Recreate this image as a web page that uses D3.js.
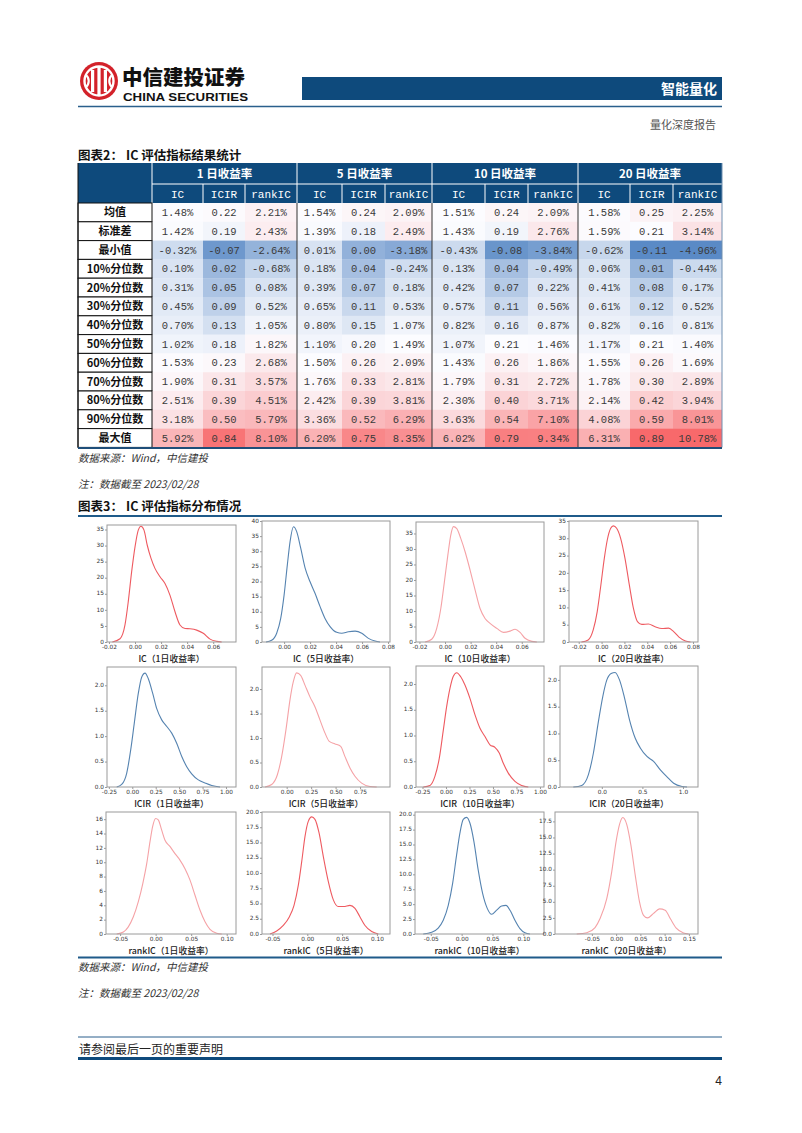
<!DOCTYPE html>
<html><head><meta charset="utf-8">
<script src="https://cdn.jsdelivr.net/npm/d3@7"></script>
<style>
body{margin:0;background:#fff;}
svg{display:block;}
</style></head><body>
<svg id="page" width="802" height="1133"></svg>
<script>
// ---------------- table data ----------------
const rowLabels = ["均值","标准差","最小值","10%分位数","20%分位数","30%分位数","40%分位数","50%分位数","60%分位数","70%分位数","80%分位数","90%分位数","最大值"];
const horizons = ["1 日收益率","5 日收益率","10 日收益率","20 日收益率"];
const metrics = ["IC","ICIR","rankIC"];
const ic1   = [1.48,1.42,-0.32,0.10,0.31,0.45,0.70,1.02,1.53,1.90,2.51,3.18,5.92];
const icir1 = [0.22,0.19,-0.07,0.02,0.05,0.09,0.13,0.18,0.23,0.31,0.39,0.50,0.84];
const rank1 = [2.21,2.43,-2.64,-0.68,0.08,0.52,1.05,1.82,2.68,3.57,4.51,5.79,8.10];
const ic5   = [1.54,1.39,0.01,0.18,0.39,0.65,0.80,1.10,1.50,1.76,2.42,3.36,6.20];
const icir5 = [0.24,0.18,0.00,0.04,0.07,0.11,0.15,0.20,0.26,0.33,0.39,0.52,0.75];
const rank5 = [2.09,2.49,-3.18,-0.24,0.18,0.53,1.07,1.49,2.09,2.81,3.81,6.29,8.35];
const ic10   = [1.51,1.43,-0.43,0.13,0.42,0.57,0.82,1.07,1.43,1.79,2.30,3.63,6.02];
const icir10 = [0.24,0.19,-0.08,0.04,0.07,0.11,0.16,0.21,0.26,0.31,0.40,0.54,0.79];
const rank10 = [2.09,2.76,-3.84,-0.49,0.22,0.56,0.87,1.46,1.86,2.72,3.71,7.10,9.34];
const ic20   = [1.58,1.59,-0.62,0.06,0.41,0.61,0.82,1.17,1.55,1.78,2.14,4.08,6.31];
const icir20 = [0.25,0.21,-0.11,0.01,0.08,0.12,0.16,0.21,0.26,0.30,0.42,0.59,0.89];
const rank20 = [2.25,3.14,-4.96,-0.44,0.17,0.52,0.81,1.40,1.69,2.89,3.94,8.01,10.78];

// ---------------- KDE curves: [x, density] ----------------
const kdeIC1 = [[-0.0174,0],[-0.0115,1.0],[-0.0077,5.3],[-0.0052,12.5],[-0.0026,21.8],[0.0,29.6],[0.0025,34.8],[0.0046,36.0],[0.0069,34.8],[0.0094,30.1],[0.0123,26.0],[0.0153,22.9],[0.0192,20.3],[0.023,18.2],[0.0268,14.6],[0.0307,9.4],[0.0345,5.3],[0.0384,4.2],[0.0422,4.1],[0.0473,3.7],[0.0524,2.7],[0.0576,0.9],[0.0627,0.2],[0.0665,0]];
const kdeIC5 = [[-0.0139,0],[-0.0096,0.55],[-0.0057,2.9],[-0.0026,7.8],[0.0,15.5],[0.0025,25.5],[0.0046,33.2],[0.0072,38.1],[0.0097,36.5],[0.0128,31.0],[0.0162,24.4],[0.02,19.9],[0.0238,16.1],[0.0277,11.7],[0.0315,7.8],[0.0354,5.1],[0.0405,3.2],[0.0444,2.9],[0.0495,3.4],[0.0546,3.6],[0.0598,2.9],[0.0649,1.2],[0.07,0.3],[0.0738,0]];
const kdeIC10 = [[-0.0156,0],[-0.0104,0.9],[-0.0065,4.4],[-0.0033,10.8],[-0.0005,19.4],[0.0022,28.0],[0.0045,34.5],[0.0066,37.2],[0.0092,36.6],[0.0123,33.4],[0.0157,29.1],[0.0196,23.2],[0.0235,16.8],[0.0274,10.8],[0.0313,7.6],[0.0352,6.0],[0.0405,4.4],[0.0457,3.1],[0.0509,3.5],[0.0548,4.1],[0.0587,3.1],[0.0626,1.2],[0.0679,0.2],[0.0718,0]];
const kdeIC20 = [[-0.0176,0],[-0.0117,0.6],[-0.0073,3.5],[-0.0038,8.8],[-0.0006,16.5],[0.0024,24.2],[0.005,29.5],[0.008,32.9],[0.0103,33.6],[0.0132,32.9],[0.0167,30.0],[0.0205,24.2],[0.0243,16.5],[0.0279,9.7],[0.0314,5.9],[0.0352,5.1],[0.041,5.2],[0.0469,4.4],[0.0528,3.9],[0.0587,4.0],[0.0631,3.0],[0.0675,1.5],[0.0734,0.3],[0.0778,0]];
const kdeICIR1 = [[-0.166,0],[-0.113,0.05],[-0.06,0.27],[-0.017,0.73],[0.021,1.25],[0.064,1.84],[0.1,2.16],[0.136,2.24],[0.171,2.13],[0.218,1.84],[0.261,1.54],[0.314,1.32],[0.368,1.19],[0.421,1.06],[0.474,0.86],[0.528,0.6],[0.581,0.4],[0.634,0.26],[0.705,0.14],[0.777,0.08],[0.848,0.03],[0.937,0]];
const kdeICIR5 = [[-0.221,0],[-0.153,0.05],[-0.095,0.25],[-0.051,0.62],[-0.007,1.17],[0.034,1.78],[0.068,2.15],[0.102,2.33],[0.143,2.28],[0.187,2.08],[0.238,1.84],[0.289,1.64],[0.34,1.37],[0.392,1.1],[0.436,0.93],[0.494,0.88],[0.552,0.83],[0.596,0.62],[0.647,0.39],[0.698,0.22],[0.766,0.08],[0.852,0.01],[0.92,0]];
const kdeICIR10 = [[-0.241,0],[-0.17,0.03],[-0.117,0.21],[-0.071,0.56],[-0.028,1.11],[0.007,1.56],[0.043,1.92],[0.078,2.15],[0.114,2.22],[0.157,2.14],[0.202,1.98],[0.255,1.72],[0.309,1.4],[0.362,1.14],[0.415,0.98],[0.468,0.82],[0.521,0.77],[0.567,0.66],[0.61,0.46],[0.663,0.27],[0.734,0.11],[0.805,0.03],[0.876,0]];
const kdeICIR20 = [[-0.351,0],[-0.247,0.03],[-0.165,0.23],[-0.104,0.63],[-0.042,1.22],[0.012,1.69],[0.062,2.0],[0.115,2.12],[0.164,2.14],[0.218,2.0],[0.276,1.69],[0.342,1.25],[0.412,0.91],[0.474,0.73],[0.556,0.57],[0.638,0.48],[0.721,0.32],[0.803,0.19],[0.885,0.07],[0.988,0.01],[1.05,0]];
const kdeRank1 = [[-0.0548,0],[-0.0454,0.28],[-0.0385,1.0],[-0.0314,2.4],[-0.0244,4.5],[-0.0182,7.0],[-0.0126,9.8],[-0.0079,12.9],[-0.0042,15.0],[0.0,16.1],[0.0037,15.9],[0.0084,14.5],[0.013,13.1],[0.0201,12.2],[0.0272,11.2],[0.0342,10.3],[0.0413,9.1],[0.0484,7.5],[0.0554,5.4],[0.0625,3.3],[0.0695,1.7],[0.0765,0.65],[0.086,0.1],[0.093,0]];
const kdeRank5 = [[-0.0536,0],[-0.044,0.5],[-0.0345,1.4],[-0.0259,2.8],[-0.0191,4.7],[-0.0129,8.0],[-0.008,11.9],[-0.0033,16.0],[0.0015,18.5],[0.0063,19.2],[0.011,18.8],[0.0168,16.6],[0.023,12.7],[0.0302,8.6],[0.0374,5.6],[0.0445,4.5],[0.0522,4.5],[0.0613,4.7],[0.0685,4.2],[0.0757,2.8],[0.0829,1.4],[0.0925,0.4],[0.102,0]];
const kdeRank10 = [[-0.0622,0],[-0.0486,0.3],[-0.038,1.0],[-0.0298,2.3],[-0.0217,4.8],[-0.0146,8.5],[-0.0081,13.3],[-0.0028,16.9],[0.0026,19.2],[0.0081,19.55],[0.0134,18.6],[0.0199,15.5],[0.0269,10.7],[0.034,6.8],[0.0415,4.3],[0.0486,3.3],[0.0567,4.0],[0.0648,4.7],[0.0718,4.8],[0.0794,3.8],[0.0864,2.3],[0.0945,0.9],[0.1026,0.2],[0.1107,0]];
const kdeRank20 = [[-0.0812,0],[-0.0606,0.2],[-0.0434,1.0],[-0.0331,2.4],[-0.0193,5.5],[-0.009,9.7],[0.0,14.4],[0.0069,17.0],[0.0138,18.1],[0.022,17.0],[0.0303,13.9],[0.0393,9.2],[0.0482,5.0],[0.0565,2.9],[0.0647,2.5],[0.0771,3.2],[0.0895,3.9],[0.1012,3.7],[0.1116,2.4],[0.124,0.9],[0.139,0.15],[0.1494,0]];

const panelLabels = ["IC（1日收益率）","IC（5日收益率）","IC（10日收益率）","IC（20日收益率）",
  "ICIR（1日收益率）","ICIR（5日收益率）","ICIR（10日收益率）","ICIR（20日收益率）",
  "rankIC（1日收益率）","rankIC（5日收益率）","rankIC（10日收益率）","rankIC（20日收益率）"];

// ---------------- setup ----------------
const svg = d3.select("#page");
const CJK = "'Noto Sans CJK SC','Noto Sans',sans-serif";
const MONO = "'Liberation Mono','DejaVu Sans Mono',monospace";
const SANS = "'DejaVu Sans','Liberation Sans',sans-serif";
const NAVY = "#0e4a7c";
const loc = d3.formatLocale({decimal:".",thousands:",",grouping:[3],currency:["",""],minus:"-"});

svg.append("rect").attr("width",802).attr("height",1133).attr("fill","#fff");

// ---------------- page header ----------------
const logo = svg.append("g");
logo.append("circle").attr("cx",99).attr("cy",81).attr("r",19).attr("fill","#d3222a");
logo.append("circle").attr("cx",99).attr("cy",81).attr("r",14.5).attr("fill","none").attr("stroke","#fff").attr("stroke-width",2.4);
[[91,70,3.2,22],[97.4,66,3.2,30],[103.8,70,3.2,22]].forEach(r=>{
  logo.append("rect").attr("x",r[0]).attr("y",r[1]).attr("width",r[2]).attr("height",r[3]).attr("fill","#fff");
});
logo.append("path").attr("d","M86 75 A8 8 0 0 1 86 87").attr("fill","none").attr("stroke","#fff").attr("stroke-width",2.2);
logo.append("path").attr("d","M112 75 A8 8 0 0 0 112 87").attr("fill","none").attr("stroke","#fff").attr("stroke-width",2.2);
svg.append("text").attr("x",122).attr("y",84.5).text("中信建投证券")
  .attr("font-family",CJK).attr("font-weight",900).attr("font-size",20.5).attr("fill","#111");
svg.append("text").attr("x",123).attr("y",101).text("CHINA SECURITIES")
  .attr("font-family","'Liberation Sans',Arial,sans-serif").attr("font-weight",700).attr("font-size",11.5)
  .attr("textLength",125).attr("lengthAdjust","spacingAndGlyphs").attr("fill","#111");
svg.append("rect").attr("x",302).attr("y",77).attr("width",420).attr("height",23).attr("fill",NAVY);
svg.append("text").attr("x",717).attr("y",94).attr("text-anchor","end").text("智能量化")
  .attr("font-family",CJK).attr("font-weight",700).attr("font-size",14).attr("fill","#fff");
svg.append("line").attr("x1",78).attr("x2",722).attr("y1",106.5).attr("y2",106.5).attr("stroke","#2a5f8c").attr("stroke-width",1.5);
svg.append("text").attr("x",716).attr("y",129).attr("text-anchor","end").text("量化深度报告")
  .attr("font-family",CJK).attr("font-size",11).attr("fill","#555");

function caption(y, num, title){
  svg.append("text").attr("x",78).attr("y",y).text(num)
    .attr("font-family",CJK).attr("font-weight",700).attr("font-size",12.5).attr("fill","#111");
  svg.append("text").attr("x",126).attr("y",y).text(title)
    .attr("font-family",CJK).attr("font-weight",700).attr("font-size",12.5).attr("fill","#111");
}
caption(160,"图表2：","IC 评估指标结果统计");

// ---------------- table ----------------
const colEdges = [78,152,203,245,297,342,385,432,485,528,578,630,673,722];
const headTop = 163, headMid = 184, bodyTop = 203, rowH = 18.8;
const bodyBottom = bodyTop + rowH*rowLabels.length;
const tableCols = [ic1,icir1,rank1, ic5,icir5,rank5, ic10,icir10,rank10, ic20,icir20,rank20];
const pctAll = [...ic1,...rank1,...ic5,...rank5,...ic10,...rank10,...ic20,...rank20];
const icirAll = [...icir1,...icir5,...icir10,...icir20];
const cs = arr => d3.scaleLinear()
  .domain([d3.min(arr), d3.quantile(arr.slice().sort(d3.ascending),0.5), d3.max(arr)])
  .range(["#5A8AC6","#FCFCFF","#F8696B"]);
const pctColor = cs(pctAll), icirColor = cs(icirAll);
const f2 = loc.format(".2f");

const tb = svg.append("g");
// header
tb.append("rect").attr("x",78).attr("y",headTop).attr("width",722-78).attr("height",bodyTop-headTop).attr("fill",NAVY);
horizons.forEach((h,gi)=>{
  const xa = colEdges[1+gi*3], xb = colEdges[4+gi*3];
  tb.append("text").attr("x",(xa+xb)/2).attr("y",(headTop+headMid)/2+4).attr("text-anchor","middle")
    .text(h).attr("font-family",CJK).attr("font-weight",700).attr("font-size",11.5).attr("fill","#fff");
  metrics.forEach((m,mi)=>{
    const c0 = colEdges[1+gi*3+mi], c1 = colEdges[2+gi*3+mi];
    tb.append("text").attr("x",(c0+c1)/2).attr("y",(headMid+bodyTop)/2+4).attr("text-anchor","middle")
      .text(m).attr("font-family",MONO).attr("font-size",11).attr("fill","#fff");
  });
});
tb.append("line").attr("x1",152).attr("x2",722).attr("y1",headMid).attr("y2",headMid).attr("stroke","#fff").attr("stroke-width",1);
colEdges.slice(1,-1).forEach((x,i)=>{
  const isGroup = (i%3===0);
  tb.append("line").attr("x1",x).attr("x2",x).attr("y1",isGroup?headTop:headMid).attr("y2",bodyTop)
    .attr("stroke","#fff").attr("stroke-width",1);
});
// body cells
rowLabels.forEach((lab,ri)=>{
  const y0 = bodyTop + ri*rowH;
  tableCols.forEach((col,ci)=>{
    const v = col[ri];
    const isIcir = (ci%3===1);
    const c0 = colEdges[1+ci], c1 = colEdges[2+ci];
    tb.append("rect").attr("x",c0).attr("y",y0).attr("width",c1-c0).attr("height",rowH+0.3)
      .attr("fill", isIcir ? icirColor(v) : pctColor(v));
    tb.append("text").attr("x",(c0+c1)/2).attr("y",y0+rowH/2+3.6).attr("text-anchor","middle")
      .text(isIcir ? f2(v) : f2(v)+"%").attr("font-family",MONO).attr("font-size",10.5).attr("fill","#3a3a3a");
  });
  tb.append("rect").attr("x",78).attr("y",y0).attr("width",74).attr("height",rowH)
    .attr("fill","#fff").attr("stroke","#111").attr("stroke-width",1);
  tb.append("text").attr("x",115).attr("y",y0+rowH/2+4).attr("text-anchor","middle").text(lab)
    .attr("font-family",CJK).attr("font-weight",700).attr("font-size",11).attr("fill","#111");
});
[297,432,578].forEach(x=>{
  tb.append("line").attr("x1",x).attr("x2",x).attr("y1",bodyTop).attr("y2",bodyBottom).attr("stroke","#333").attr("stroke-width",1);
});
tb.append("line").attr("x1",722).attr("x2",722).attr("y1",headTop).attr("y2",bodyBottom).attr("stroke","#6f8fb0").attr("stroke-width",1);
tb.append("line").attr("x1",78).attr("x2",78).attr("y1",headTop).attr("y2",bodyBottom).attr("stroke","#111").attr("stroke-width",1);
tb.append("line").attr("x1",78).attr("x2",722).attr("y1",bodyBottom+0.5).attr("y2",bodyBottom+0.5).attr("stroke","#1f4e79").attr("stroke-width",2);

function note(y0){
  svg.append("text").attr("x",78).attr("y",y0).text("数据来源：Wind，中信建投")
    .attr("font-family",CJK).attr("font-style","italic").attr("font-size",10.5).attr("fill","#333");
  svg.append("text").attr("x",78).attr("y",y0+26).text("注：数据截至 2023/02/28")
    .attr("font-family",CJK).attr("font-style","italic").attr("font-size",10.5).attr("fill","#333");
}
note(462);

caption(511,"图表3：","IC 评估指标分布情况");
svg.append("line").attr("x1",78).attr("x2",722).attr("y1",516).attr("y2",516).attr("stroke","#1f5b8a").attr("stroke-width",2);

// ---------------- KDE panels ----------------
const RED = "#ee5a60", PINK = "#f5a2a6", BLUE = "#5583b0";
const r5 = n => d3.range(0, n+0.001, 5);
const r25 = n => d3.range(0, n+0.001, 2.5);
const panels = [
  {data:kdeIC1, color:RED,  box:[107,525,236,642], xd:[-0.0215,0.0775], yd:[0,36.4], xt:[-0.02,0,0.02,0.04,0.06], yt:r5(35), xf:".2f", yf:"d", ly:662},
  {data:kdeIC5, color:BLUE, box:[262,521,390,642], xd:[-0.017,0.0815], yd:[0,40], xt:[0,0.02,0.04,0.06,0.08], yt:r5(40), xf:".2f", yf:"d", ly:662},
  {data:kdeIC10, color:PINK, box:[416,522,544,642], xd:[-0.0227,0.0774], yd:[0,38.7], xt:[-0.02,0,0.02,0.04,0.06], yt:r5(35), xf:".2f", yf:"d", ly:662},
  {data:kdeIC20, color:RED, box:[569,521,698,642], xd:[-0.0285,0.0844], yd:[0,35], xt:[-0.02,0,0.02,0.04,0.06,0.08], yt:r5(35), xf:".2f", yf:"d", ly:662},
  {data:kdeICIR1, color:BLUE, box:[107,667,236,787], xd:[-0.27,1.107], yd:[0,2.36], xt:[-0.25,0,0.25,0.5,0.75,1], yt:[0,0.5,1,1.5,2], xf:".2f", yf:".1f", ly:807},
  {data:kdeICIR5, color:PINK, box:[262,667,390,787], xd:[-0.252,1.056], yd:[0,2.45], xt:[0,0.25,0.5,0.75], yt:[0,0.5,1,1.5,2], xf:".2f", yf:".1f", ly:807},
  {data:kdeICIR10, color:RED, box:[416,666,544,787], xd:[-0.319,1.043], yd:[0,2.35], xt:[-0.25,0,0.25,0.5,0.75,1], yt:[0,0.5,1,1.5,2], xf:".2f", yf:".1f", ly:807},
  {data:kdeICIR20, color:BLUE, box:[560,666,698,787], xd:[-0.515,1.185], yd:[0,2.26], xt:[0,0.5,1], yt:[0,0.5,1,1.5,2], xf:".1f", yf:".1f", ly:807},
  {data:kdeRank1, color:PINK, box:[106,812,236,934], xd:[-0.0699,0.1131], yd:[0,17], xt:[-0.05,0,0.05,0.1], yt:d3.range(0,16.01,2), xf:".2f", yf:"d", ly:954},
  {data:kdeRank5, color:RED, box:[262,812,390,934], xd:[-0.0651,0.1188], yd:[0,20], xt:[-0.05,0,0.05,0.1], yt:r25(20), xf:".2f", yf:".1f", ly:954},
  {data:kdeRank10, color:BLUE, box:[415,812,544,934], xd:[-0.0756,0.1335], yd:[0,20.45], xt:[-0.05,0,0.05,0.1], yt:r25(20), xf:".2f", yf:".1f", ly:954},
  {data:kdeRank20, color:PINK, box:[555,812,698,934], xd:[-0.126,0.1688], yd:[0,18.96], xt:[-0.05,0,0.05,0.1,0.15], yt:r25(17.5), xf:".2f", yf:".1f", ly:954}
];

panels.forEach((p,i)=>{
  const [x0,y0,x1,y1] = p.box;
  const x = d3.scaleLinear().domain(p.xd).range([x0,x1]);
  const y = d3.scaleLinear().domain(p.yd).range([y1,y0]);
  const g = svg.append("g");
  const ax = g.append("g").attr("transform",`translate(0,${y1})`)
    .call(d3.axisBottom(x).tickValues(p.xt).tickFormat(loc.format(p.xf)).tickSize(2).tickPadding(1));
  const ay = g.append("g").attr("transform",`translate(${x0},0)`)
    .call(d3.axisLeft(y).tickValues(p.yt).tickFormat(loc.format(p.yf)).tickSize(2).tickPadding(1));
  ay.selectAll("text").attr("dy","0.2em");
  [ax,ay].forEach(a=>{
    a.select(".domain").remove();
    a.selectAll("line").attr("stroke","#555").attr("stroke-width",0.6);
    a.selectAll("text").attr("font-family",SANS).attr("font-size",5.8).attr("fill","#333");
  });
  g.append("path").datum(p.data)
    .attr("d", d3.line().x(d=>x(d[0])).y(d=>y(d[1])).curve(d3.curveMonotoneX))
    .attr("fill","none").attr("stroke",p.color).attr("stroke-width",1.1);
  g.append("rect").attr("x",x0).attr("y",y0).attr("width",x1-x0).attr("height",y1-y0)
    .attr("fill","none").attr("stroke","#9a9a9a").attr("stroke-width",1);
  g.append("text").attr("x",(x0+x1)/2).attr("y",p.ly).attr("text-anchor","middle").text(panelLabels[i])
    .attr("font-family",CJK).attr("font-weight",500).attr("font-size",8.8).attr("fill","#222");
});

svg.append("line").attr("x1",78).attr("x2",722).attr("y1",957.5).attr("y2",957.5).attr("stroke","#1f5b8a").attr("stroke-width",2);
note(971);

// ---------------- footer ----------------
svg.append("line").attr("x1",78).attr("x2",722).attr("y1",1037).attr("y2",1037).attr("stroke","#2a5f8c").attr("stroke-width",1);
svg.append("text").attr("x",79).attr("y",1054).text("请参阅最后一页的重要声明")
  .attr("font-family",CJK).attr("font-size",12).attr("fill","#222");
svg.append("line").attr("x1",78).attr("x2",722).attr("y1",1058.5).attr("y2",1058.5).attr("stroke",NAVY).attr("stroke-width",3);
svg.append("text").attr("x",722).attr("y",1085).attr("text-anchor","end").text("4")
  .attr("font-family","'Liberation Sans',Arial,sans-serif").attr("font-size",12).attr("fill","#222");
</script>
</body></html>
